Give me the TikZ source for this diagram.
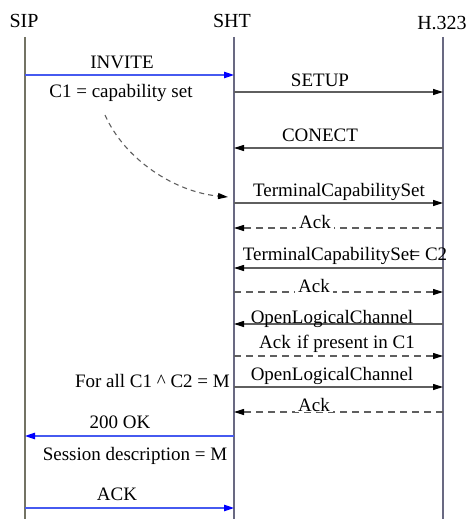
\documentclass[tikz,border=0pt]{standalone}
\usepackage{fontspec}
\setmainfont{Liberation Serif}
\usetikzlibrary{arrows.meta}
\definecolor{lifeA}{RGB}{115,115,100}
\definecolor{lifeB}{RGB}{105,105,130}
\definecolor{msgline}{RGB}{95,95,95}
\definecolor{blueline}{RGB}{70,90,240}
\definecolor{bluetip}{RGB}{0,0,255}
\tikzset{
  lbl/.style={font=\fontsize{19}{22}\selectfont, inner sep=0pt, anchor=base},
  hdr/.style={font=\fontsize{20}{24}\selectfont, inner sep=0pt, anchor=base},
  lifeline/.style={line width=1.6pt, draw=lifeB},
  msg/.style={line width=1.1pt, draw=msgline, -{Triangle[length=10pt,width=6pt,color=black]}},
  dmsg/.style={msg, dash pattern=on 7pt off 5pt},
  bmsg/.style={line width=1.1pt, draw=blueline, -{Triangle[length=10pt,width=6.5pt,color=bluetip]}},
  wbg/.style={fill=white, inner xsep=3pt, inner ysep=1pt},
}
\begin{document}
\begin{tikzpicture}[x=1pt,y=-1pt]
\useasboundingbox (0,0) rectangle (469,519);
% headers
\node[hdr] (hsip) at (24,28) {SIP};
\node[hdr] (hsht) at (232,28) {SHT};
\node[hdr] (hh) at (442,30) {H.323};
% lifeline ends
\coordinate (sipT) at (25,37);  \coordinate (sipB) at (25,519);
\coordinate (shtT) at (234,37); \coordinate (shtB) at (234,519);
\coordinate (hT) at (443,37);   \coordinate (hB) at (443,519);
\draw[lifeline, draw=lifeA] (sipT) -- (sipB);
\draw[lifeline] (shtT) -- (shtB);
\draw[lifeline] (hT) -- (hB);
% message rows
\foreach \n/\y in {1/75,2/92,3/148,4/203,5/228,6/268,7/292,8/324,9/356,10/387,11/412,12/436,13/508}{
  \coordinate (a\n) at (25,\y);
  \coordinate (b\n) at (234,\y);
  \coordinate (c\n) at (443,\y);
}
% INVITE
\draw[bmsg] (a1) -- (b1);
\node[lbl] (tinvite) at (122,69) {INVITE};
\node[lbl] (tc1) at (121,97) {C1 = capability set};
% SETUP
\draw[msg] (b2) -- (c2);
\node[lbl] (tsetup) at (320,86) {SETUP};
% CONECT
\draw[msg] (c3) -- (b3);
\node[lbl] (tconect) at (320,141) {CONECT};
% dashed curve
\coordinate (cs) at (105,115);
\coordinate (ce) at (228,197);
\draw[line width=1.1pt, draw=msgline, dash pattern=on 5pt off 4pt, -{Triangle[length=10pt,width=6pt,color=black]}]
  (cs) .. controls (125,160) and (175,192) .. (ce);
% TerminalCapabilitySet
\draw[msg] (b4) -- (c4);
\node[lbl] (ttcs) at (339,196) {TerminalCapabilitySet};
% Ack
\draw[dmsg] (c5) -- (b5);
\node[lbl, wbg] (tack1) at (315,228) {Ack};
% TCS = C2
\draw[msg] (c6) -- (b6);
\node[lbl] (ttcs2) at (345,260) {TerminalCapabilitySet\kern-5pt= C2};
% Ack
\draw[dmsg] (b7) -- (c7);
\node[lbl, wbg] (tack2) at (314,292) {Ack};
% OpenLogicalChannel
\draw[msg] (c8) -- (b8);
\node[lbl] (tolc1) at (332,323) {OpenLogicalChannel};
% Ack if present
\draw[dmsg] (b9) -- (c9);
\node[lbl] (tackif) at (337,348) {Ack\kern1.5pt\ if present in C1};
% OpenLogicalChannel
\draw[msg] (b10) -- (c10);
\node[lbl] (tolc2) at (332,380) {OpenLogicalChannel};
\node[lbl, anchor=base east] (tforall) at (230,387) {For all C1 \textasciicircum\ C2 = M};
% Ack
\draw[dmsg] (c11) -- (b11);
\node[lbl, wbg] (tack3) at (314,411) {Ack};
% 200 OK
\draw[bmsg] (b12) -- (a12);
\node[lbl] (t200) at (120,428) {200 OK};
\node[lbl] (tsess) at (135,460) {Session description = M};
% ACK
\draw[bmsg] (a13) -- (b13);
\node[lbl] (tack) at (117,500) {ACK};
\end{tikzpicture}
\end{document}
